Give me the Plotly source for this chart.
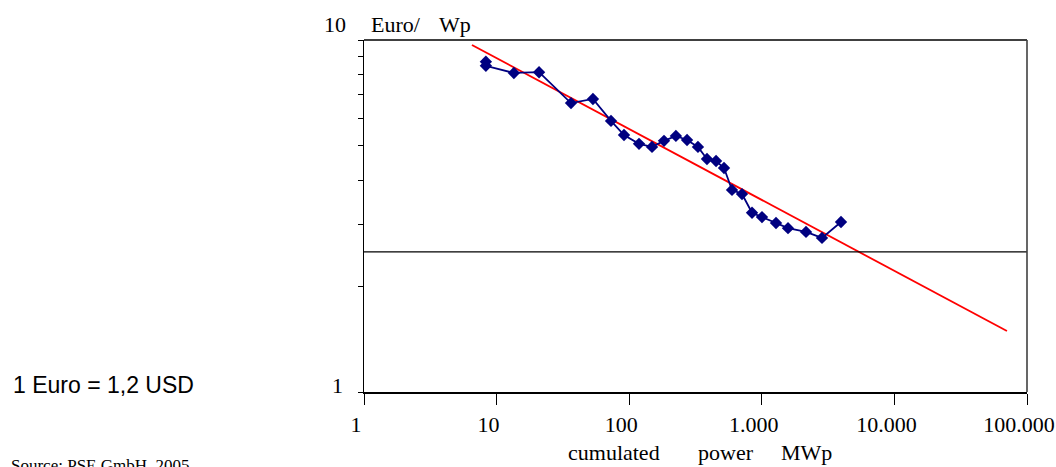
import plotly.graph_objects as go

# ---- data ----
power_mwp = [8.3, 8.3, 13.5, 20.9, 36.4, 53.3, 72.9, 91.4, 118.6, 148.6, 183, 225, 273, 330,
             386, 452, 519, 596, 709, 844, 1003, 1280, 1577, 2155, 2844, 3957]
price_eur_wp = [8.68, 8.45, 8.06, 8.1, 6.62, 6.8, 5.89, 5.37, 5.07, 4.97, 5.17, 5.34, 5.2, 4.97,
                4.59, 4.53, 4.33, 3.75, 3.65, 3.23, 3.14, 3.02, 2.92, 2.85, 2.74, 3.04]
fit_x = [6.52, 70600]
fit_y = [9.68, 1.49]
threshold_price = 2.5
x_tickvals = [1, 10, 100, 1000, 10000, 100000]
x_ticktext = ["1", "10", "100", "1.000", "10.000", "100.000"]
y_tickvals = [1, 2, 3, 4, 5, 6, 7, 8, 9, 10]

W, H = 1056, 467
L, R, T, B = 364, 29, 40, 75
PW, PH = W - L - R, H - T - B


def px(x):
    return (x - L) / PW


def py(y):
    return (H - B - y) / PH


SERIF = "Liberation Serif, Times New Roman, serif"
SANS = "Liberation Sans, Arial, sans-serif"

fig = go.Figure()
fig.add_trace(go.Scatter(
    x=fit_x, y=fit_y, mode="lines",
    line=dict(color="#FF0000", width=1.8), showlegend=False, hoverinfo="skip"))
fig.add_trace(go.Scatter(
    x=power_mwp, y=price_eur_wp, mode="lines+markers",
    line=dict(color="#000080", width=1.8),
    marker=dict(symbol="diamond", size=9.5, color="#000080"),
    showlegend=False))

fig.add_shape(type="line", xref="paper", yref="y", x0=0, x1=1,
              y0=threshold_price, y1=threshold_price,
              line=dict(color="#000000", width=1.3))
# top and right frame
fig.add_shape(type="line", xref="paper", yref="paper", x0=0, x1=1, y0=1, y1=1,
              line=dict(color="#404040", width=2.2))
fig.add_shape(type="line", xref="paper", yref="paper", x0=1, x1=1, y0=0, y1=1,
              line=dict(color="#404040", width=1.6))

fig.update_xaxes(
    type="log", range=[0, 5], tickvals=x_tickvals, ticktext=x_ticktext,
    ticks="outside", ticklen=11, tickwidth=1.3, tickcolor="#000000",
    showline=True, linecolor="#000000", linewidth=1.5, showgrid=False, zeroline=False,
    tickfont=dict(family=SERIF, size=22, color="#000000"), automargin=False,
    ticklabelstandoff=1, ticklabelshift=-8, ticklabeloverflow="allow")
fig.update_yaxes(
    type="log", range=[0, 1], tickvals=y_tickvals, showticklabels=False, automargin=False,
    ticks="outside", ticklen=5, tickwidth=1.3, tickcolor="#000000",
    showline=True, linecolor="#000000", linewidth=1.3, showgrid=False, zeroline=False)

ann = []


def add_text(text, x, y, family, size, xanchor="left"):
    ann.append(dict(text=text, x=px(x), y=py(y), xref="paper", yref="paper",
                    xanchor=xanchor, yanchor="middle", showarrow=False,
                    font=dict(family=family, size=size, color="#000000")))


add_text("10", 348, 25, SERIF, 22, "right")
add_text("Euro/", 369, 25, SERIF, 22)
add_text("Wp", 437, 25, SERIF, 22)
add_text("1", 345, 385, SERIF, 22, "right")
add_text("cumulated", 566, 452, SERIF, 22)
add_text("power", 696, 452, SERIF, 22)
add_text("MWp", 779, 452, SERIF, 22)
add_text("1 Euro = 1,2 USD", 11, 385, SANS, 23)
add_text("Source: PSE GmbH, 2005", 9, 465, SERIF, 17)

fig.update_layout(
    width=W, height=H, margin=dict(l=L, r=R, t=T, b=B, autoexpand=False),
    paper_bgcolor="#FFFFFF", plot_bgcolor="#FFFFFF",
    annotations=ann, showlegend=False)

fig.write_html("out.html", config={"displayModeBar": False},
               post_script="document.body.style.margin='0';document.body.style.overflow='hidden';")
